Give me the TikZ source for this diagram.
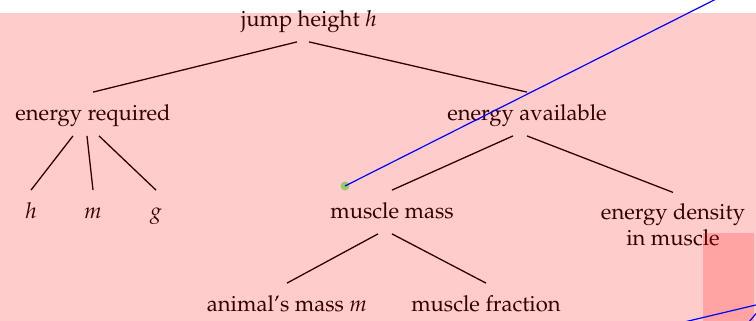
\documentclass[tikz,border=0pt]{standalone}
\usepackage[T1]{fontenc}
\usepackage{mathpazo}
\usepackage{tikz}
\usetikzlibrary{positioning}

\tikzset{
  lbl/.style={inner sep=5.5pt, text height=8.5pt, text depth=2pt, font=\fontsize{11}{13}\selectfont},
  branch/.style={line width=0.65pt},
  tint/.style={fill=red, opacity=0.2},
}

\begin{document}
\begin{tikzpicture}[x=0.5pt,y=-0.5pt]
\useasboundingbox (0,0) rectangle (756,321);
				\node[lbl] (root) at (309,20) {jump height $h$};
				\node[lbl] (req) at (93,114) {energy required};
				\node[lbl] (avail) at (527,114) {energy available};
				\node[lbl] (h) at (31,212) {$h$};
				\node[lbl] (m) at (93,212) {$m$};
				\node[lbl] (g) at (156,212) {$g$};
				\node[lbl] (mm) at (392,212) {muscle mass};
				\node[inner sep=5.5pt, align=center, font=\fontsize{11}{13}\selectfont] (dens) at (673,225) {energy density\\in muscle};
				\node[lbl] (am) at (287,305) {animal's mass $m$};
				\node[lbl] (mf) at (486,305) {muscle fraction};
				
				\foreach \p/\c/\s in {root/req/-6pt, root/avail/0pt, req/h/-10pt, req/m/-3pt, req/g/3pt,
avail/mm/-7pt, avail/dens/0pt, mm/am/-7pt, mm/mf/0pt} {
\draw[branch] ([xshift=\s]\p.south) -- (\c.north);
				}
				
				\node[fill=green!50, circle, inner sep=0pt, minimum size=4.5pt] (pin) at (345,186) {};
				
				% overlays
				\fill[tint] (0,13) rectangle (756,321);
				\fill[tint] (703,233) rectangle (754,321);
				
				\coordinate (top) at (730,-8);
				\coordinate (a1) at (680,323);
				\coordinate (a2) at (760,304);
				\coordinate (b1) at (748,323);
				\coordinate (b2) at (760,309);
\draw[blue, line width=0.6pt] (pin.center) -- (top);
\draw[blue, line width=0.6pt] (a1) -- (a2);
\draw[blue, line width=0.6pt] (b1) -- (b2);
		\end{tikzpicture}
\end{document}
